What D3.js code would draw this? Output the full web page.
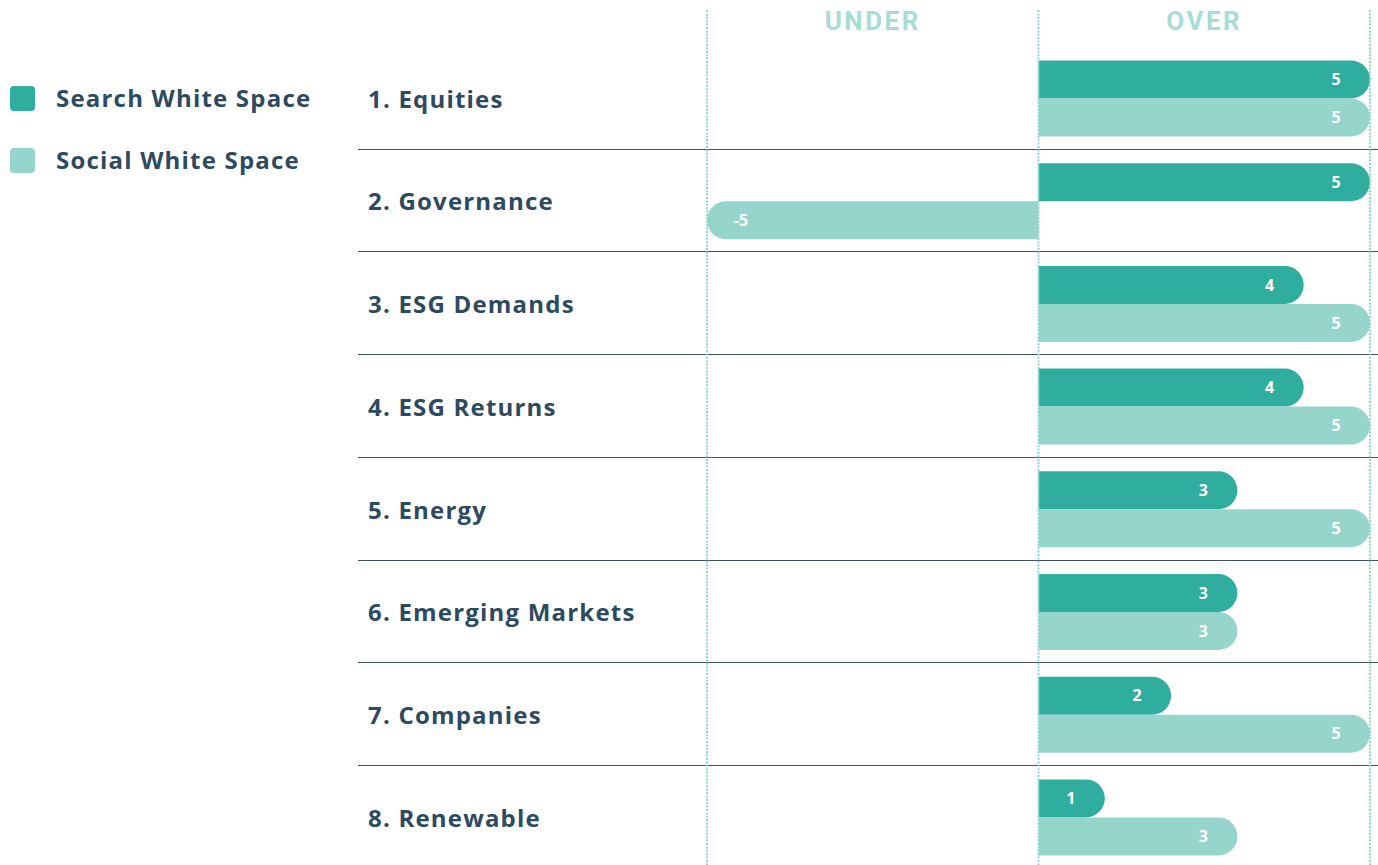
<!DOCTYPE html>
<html>
<head>
<meta charset="utf-8">
<script src="https://cdn.jsdelivr.net/npm/d3@7"></script>
<style>
  html, body { margin: 0; padding: 0; background: #fff; }
  svg { display: block; font-family: "Open Sans", "Lato", sans-serif; }
</style>
</head>
<body>
<svg id="chart" width="1378" height="865"></svg>
<script>
// Chart data
const categories = ["1. Equities", "2. Governance", "3. ESG Demands", "4. ESG Returns",
    "5. Energy", "6. Emerging Markets", "7. Companies", "8. Renewable"];
const searchValues = [5, 5, 4, 4, 3, 3, 2, 1];
const socialValues = [5, -5, 5, 5, 5, 3, 5, 3];
const seriesNames = ["Search White Space", "Social White Space"];
const headerLabels = ["UNDER", "OVER"];
const gridTicks = [-5, 0, 5];

const colors = ["#2fae9f", "#96d5cc"];
const textColor = "#2d4a5e";

const svg = d3.select("#chart");

// Scales
const x = d3.scaleLinear().domain([-5, 5]).range([707, 1370]);
const y = d3.scaleBand().domain(categories).range([47, 868.6]);
const inner = d3.scaleBand().domain([0, 1]).range([13.5, 89.5]);

// Row separators
svg.append("g")
    .selectAll("line")
    .data(categories.slice(1))
    .enter().append("line")
    .attr("x1", 358)
    .attr("x2", 1378)
    .attr("y1", d => Math.round(y(d)) - 0.5)
    .attr("y2", d => Math.round(y(d)) - 0.5)
    .attr("stroke", "#3d5566")
    .attr("stroke-width", 1.2);

// Category labels
svg.append("g")
    .selectAll("text")
    .data(categories)
    .enter().append("text")
    .attr("x", 368)
    .attr("y", d => y(d) + y.bandwidth() / 2 + 1)
    .attr("dy", "0.35em")
    .attr("fill", textColor)
    .attr("font-size", 24)
    .attr("font-weight", 700)
    .attr("letter-spacing", 1.2)
    .text(d => d);

// Bar path with rounded outer end
function barPath(v, top, h) {
    const x0 = x(0), x1 = x(v), r = h / 2;
    if (v >= 0) {
        return `M${x0},${top}H${x1 - r}A${r},${r} 0 0 1 ${x1 - r},${top + h}H${x0}Z`;
    }
    return `M${x0},${top}H${x1 + r}A${r},${r} 0 0 0 ${x1 + r},${top + h}H${x0}Z`;
}

const rows = categories.map((c, i) => ({ cat: c, vals: [searchValues[i], socialValues[i]] }));

const rowG = svg.append("g")
    .selectAll("g")
    .data(rows)
    .enter().append("g")
    .attr("transform", d => `translate(0,${y(d.cat)})`);

[0, 1].forEach(s => {
    rowG.append("path")
        .attr("d", d => barPath(d.vals[s], inner(s), inner.bandwidth()))
        .attr("fill", colors[s]);

    rowG.append("text")
        .attr("x", d => d.vals[s] >= 0 ? x(d.vals[s]) - 34 : x(d.vals[s]) + 34)
        .attr("y", inner(s) + inner.bandwidth() / 2)
        .attr("dy", "0.36em")
        .attr("text-anchor", "middle")
        .attr("fill", "#fff")
        .attr("font-size", 16)
        .attr("font-weight", 700)
        .text(d => d.vals[s]);
});

// Dotted vertical gridlines
svg.append("g")
    .selectAll("line")
    .data(gridTicks)
    .enter().append("line")
    .attr("x1", d => x(d))
    .attr("x2", d => x(d))
    .attr("y1", 10)
    .attr("y2", 865)
    .attr("stroke", "#8fd6cc")
    .attr("stroke-width", 2)
    .attr("stroke-dasharray", "2 1.4");

// Header labels
svg.append("g")
    .selectAll("text")
    .data(headerLabels)
    .enter().append("text")
    .attr("x", (d, i) => (x(gridTicks[i]) + x(gridTicks[i + 1])) / 2)
    .attr("y", 21)
    .attr("dy", "0.35em")
    .attr("text-anchor", "middle")
    .attr("fill", "#a6ddd5")
    .attr("font-family", "Roboto, sans-serif")
    .attr("font-size", 26)
    .attr("font-weight", 700)
    .attr("letter-spacing", 2.5)
    .text(d => d);

// Legend
const legend = svg.append("g")
    .selectAll("g")
    .data(seriesNames)
    .enter().append("g")
    .attr("transform", (d, i) => `translate(10,${86 + i * 62})`);

legend.append("rect")
    .attr("width", 25)
    .attr("height", 25)
    .attr("rx", 4)
    .attr("fill", (d, i) => colors[i]);

legend.append("text")
    .attr("x", 46)
    .attr("y", 12.5)
    .attr("dy", "0.35em")
    .attr("fill", textColor)
    .attr("font-size", 24)
    .attr("font-weight", 700)
    .attr("letter-spacing", 1.2)
    .text(d => d);
</script>
</body>
</html>
